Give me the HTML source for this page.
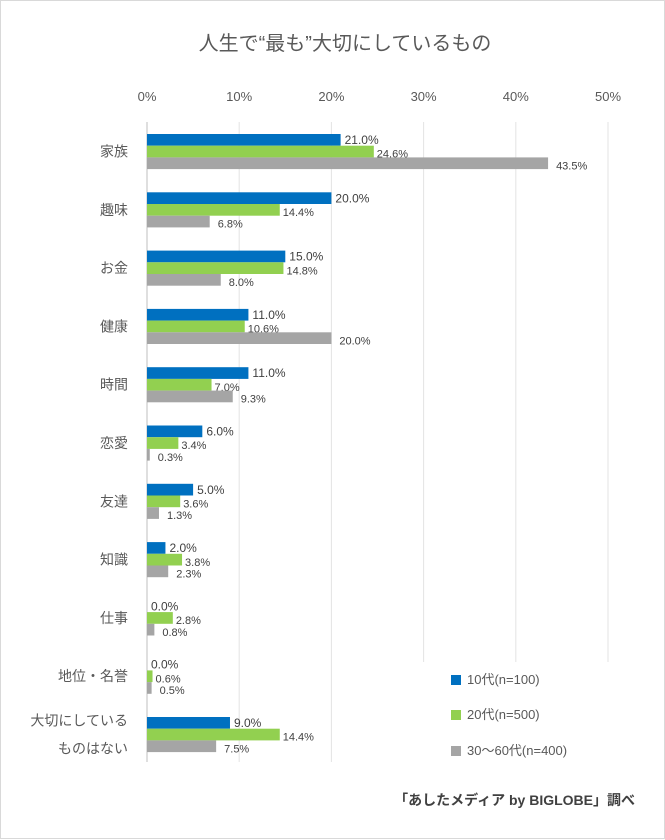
<!DOCTYPE html>
<html><head><meta charset="utf-8"><style>
body{margin:0;background:#fff;}
svg{display:block;font-family:"Liberation Sans","Noto Sans CJK JP",sans-serif;}
</style></head><body>
<svg width="665" height="840">
<rect x="0.5" y="0.5" width="664" height="838" fill="#fff" stroke="#d9d9d9"/>
<text x="345" y="50" text-anchor="middle" font-size="20" fill="#595959">人生で“最も”大切にしているもの</text>
<g id="grid"></g><g id="bars"></g>
<g>
<rect x="451" y="675" width="10" height="10" fill="#0070c0"/>
<text x="467" y="684" font-size="13" fill="#595959">10代(n=100)</text>
<rect x="451" y="710" width="10" height="10" fill="#92d050"/>
<text x="467" y="719" font-size="13" fill="#595959">20代(n=500)</text>
<rect x="451" y="746" width="10" height="10" fill="#a5a5a5"/>
<text x="467" y="755" font-size="13" fill="#595959">30～60代(n=400)</text>
</g>
<text x="635" y="805" text-anchor="end" font-size="14" font-weight="bold" fill="#404040">「あしたメディア by BIGLOBE」調べ</text>
</svg>
<script>
const categories=["家族","趣味","お金","健康","時間","恋愛","友達","知識","仕事","地位・名誉","大切にしている|ものはない"];
const teens=[21.0,20.0,15.0,11.0,11.0,6.0,5.0,2.0,0.0,0.0,9.0];
const twenties=[24.6,14.4,14.8,10.6,7.0,3.4,3.6,3.8,2.8,0.6,14.4];
const older=[43.5,6.8,8.0,20.0,9.3,0.3,1.3,2.3,0.8,0.5,7.5];
const ticks=[0,10,20,30,40,50];
const NS="http://www.w3.org/2000/svg";
const x=v=>147+v*9.22;
const yc=i=>151.5+i*58.3;
const grid=document.getElementById('grid'),bars=document.getElementById('bars');
function mk(tag,a,p,t){const e=document.createElementNS(NS,tag);for(const k in a)e.setAttribute(k,a[k]);if(t!==undefined)e.textContent=t;p.appendChild(e);return e;}
ticks.forEach(t=>{
 const l=mk('line',{x1:x(t),x2:x(t),y1:122,y2:t>=30?662:762,stroke:'#e3e3e3'},grid);
 
 
 const tx=mk('text',{x:x(t),y:101,'text-anchor':'middle','font-size':13,fill:'#595959'},grid,t+'%');
 
 
});
const ax=mk('line',{x1:147,x2:147,y1:122,y2:762,stroke:'#bfbfbf'},grid);


const series=[[teens,'#0070c0',12],[twenties,'#92d050',11],[older,'#a5a5a5',11]];
categories.forEach((c,i)=>{
 const parts=c.split('|');
 parts.forEach((p,j)=>{
  const t=mk('text',{x:128,y:yc(i)+5+(parts.length>1?(j?14:-14):0),'text-anchor':'end','font-size':14,fill:'#595959'},grid,p);
  
  
 });
 series.forEach((s,k)=>{
  const top=yc(i)-17.5+k*11.7, v=s[0][i];
  const r=mk('rect',{x:147,y:top,width:Math.max(v*9.22,0),height:11.7,fill:s[1]},bars);
  
  
  const t=mk('text',{x:x(v)+(k==0?4:3)+(k==2?5:0),y:top+(k==0?10:12),'font-size':k==0?12:11,fill:'#404040'},bars,v.toFixed(1)+'%');
  
  
 });
});
</script>
</body></html>
